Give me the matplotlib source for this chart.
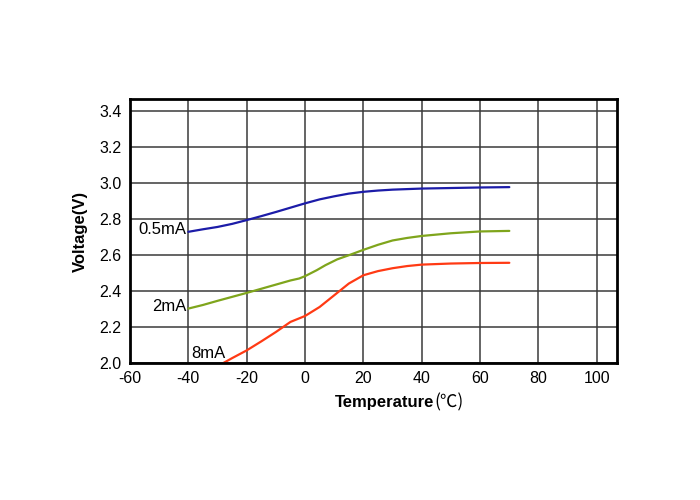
import matplotlib
matplotlib.use("Agg")
from matplotlib import pyplot as plt

# Forward voltage vs temperature
temp_05 = [-40, -35, -30, -25, -20, -15, -10, -5, 0, 5, 10, 15, 20, 25, 30, 40, 50, 60, 70]
volt_05 = [2.728, 2.742, 2.755, 2.772, 2.793, 2.815, 2.838, 2.862, 2.886, 2.908, 2.925, 2.940, 2.950, 2.957, 2.962, 2.968, 2.971, 2.974, 2.976]

temp_2 = [-40, -35, -30, -25, -20, -15, -10, -5, -2, 0, 4, 7, 11, 15, 20, 25, 30, 35, 40, 50, 60, 70]
volt_2 = [2.302, 2.322, 2.345, 2.367, 2.389, 2.412, 2.435, 2.458, 2.469, 2.482, 2.515, 2.543, 2.575, 2.598, 2.628, 2.656, 2.680, 2.694, 2.705, 2.720, 2.730, 2.733]

temp_8 = [-28, -25, -20, -15, -10, -5, 0, 5, 10, 15, 20, 25, 30, 35, 40, 50, 60, 70]
volt_8 = [2.000, 2.027, 2.070, 2.120, 2.172, 2.228, 2.261, 2.311, 2.376, 2.441, 2.487, 2.510, 2.526, 2.538, 2.546, 2.552, 2.555, 2.556]

labels = ["0.5mA", "2mA", "8mA"]
colors = ["#1c1ca8", "#7fa51c", "#ff3a14"]

x_ticks = [-60, -40, -20, 0, 20, 40, 60, 80, 100]
y_ticks = [2.0, 2.2, 2.4, 2.6, 2.8, 3.0, 3.2, 3.4]

plt.rcParams['font.family'] = ['Liberation Sans', 'DejaVu Sans']

fig = plt.figure(figsize=(7, 5), dpi=100)
ax = fig.add_axes([0.1857, 0.274, 0.6953, 0.528])

series = [(temp_05, volt_05), (temp_2, volt_2), (temp_8, volt_8)]
for (t, v), c in zip(series, colors):
    ax.plot(t, v, color=c, linewidth=1.6, solid_capstyle='round')

ax.set_xlim(-60, 106.8)
ax.set_ylim(2.0, 3.465)
ax.set_xticks(x_ticks)
ax.set_yticks(y_ticks)
ax.set_xticklabels([str(t) for t in x_ticks])
ax.set_yticklabels(["%.1f" % y for y in y_ticks])
ax.tick_params(length=0, labelsize=11.5, pad=6, colors='black')
ax.grid(True, color='#3a3a3a', linewidth=1.1)
for s in ax.spines.values():
    s.set_linewidth(2)
    s.set_color('black')

# curve labels
ax.text(temp_05[0] - 0.8, volt_05[0] + 0.012, labels[0], ha='right', va='center', fontsize=12)
ax.text(temp_2[0] - 0.8, volt_2[0] + 0.01, labels[1], ha='right', va='center', fontsize=12)
ax.text(temp_8[0] - 11, 2.055, labels[2], ha='left', va='center', fontsize=12)

ax.set_ylabel("Voltage(V)", fontsize=12, fontweight='bold', labelpad=8)

# x label: bold word plus light CJK-style unit
fig.text(0.621, 0.186, "Temperature", ha='right', va='baseline', fontsize=12, fontweight='bold')
fig.text(0.621, 0.186, "(℃)", ha='left', va='baseline', fontsize=12.5,
         family=['Noto Sans CJK SC', 'DejaVu Sans'])

fig.savefig("out.png", dpi=100)
